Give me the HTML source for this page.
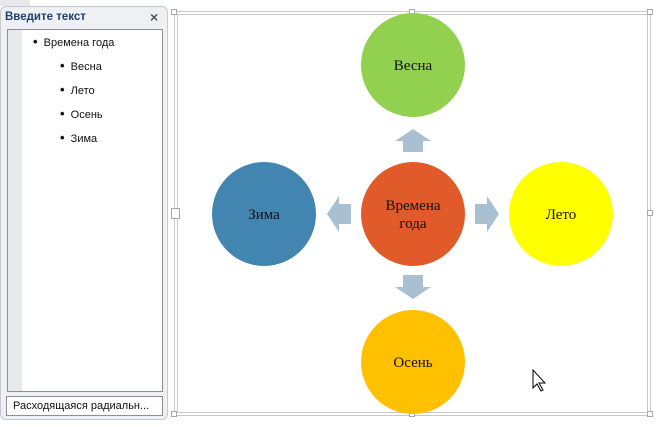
<!DOCTYPE html>
<html><head><meta charset="utf-8"><style>
body{margin:0;width:657px;height:427px;background:#fff;position:relative;overflow:hidden;font-family:"Liberation Sans",sans-serif}
.a{position:absolute}
.l div{height:24px;line-height:24px}
.l b{font-size:13px;line-height:0}
</style></head><body>
<div class="a" style="left:0;top:0;width:30px;height:6px;background:#e6e8ec"></div>
<div class="a" style="left:0;top:6px;width:168px;height:414px;background:#eef0f4;border:1px solid #c4c8cf;border-radius:6px;box-sizing:border-box"></div>
<div class="a" style="left:5px;top:11px;font-size:11.5px;color:#1e3f6e;font-weight:bold">Введите текст</div>
<div class="a" style="left:150px;top:9px;font-size:14px;color:#555;font-weight:bold">×</div>
<div class="a" style="left:7px;top:29px;width:156px;height:363px;background:#fff;border:1px solid #8a8f98;box-sizing:border-box"></div>
<div class="a" style="left:8px;top:30px;width:14px;height:361px;background:#e8e9eb"></div>
<div class="a l" style="left:33px;top:31px;font-size:11px;color:#111">
<div><b>•</b>&nbsp; Времена года</div>
<div style="padding-left:27px"><b>•</b>&nbsp; Весна</div>
<div style="padding-left:27px"><b>•</b>&nbsp; Лето</div>
<div style="padding-left:27px"><b>•</b>&nbsp; Осень</div>
<div style="padding-left:27px"><b>•</b>&nbsp; Зима</div>
</div>
<div class="a" style="left:6px;top:396px;width:157px;height:20px;background:#fff;border:1px solid #8a8f98;box-sizing:border-box;font-size:11px;color:#111;line-height:18px;padding-left:6px">Расходящаяся радиальн...</div>
<svg class="a" style="left:0;top:0" width="657" height="427">
<g fill="none" stroke="#c8c8c8">
<rect x="174.5" y="11.5" width="476" height="404"/>
<rect x="177.5" y="14.5" width="470" height="398"/>
</g>
<g fill="#fff" stroke="#a8a8a8">
<rect x="171.5" y="9.5" width="5" height="5"/><rect x="409.5" y="9.5" width="5" height="5"/><rect x="647.5" y="9.5" width="5" height="5"/>
<rect x="647.5" y="210.5" width="5" height="5"/><rect x="647.5" y="411.5" width="5" height="5"/>
<rect x="409.5" y="411.5" width="5" height="5"/><rect x="171.5" y="411.5" width="5" height="5"/>
<rect x="171.5" y="208.5" width="8" height="10"/>
</g>
<g fill="#a9bfd2">
<polygon points="403,152 423,152 423,141 431,141 413,129 395,141 403,141"/>
<polygon points="403,275 423,275 423,287 431,287 413,299 395,287 403,287"/>
<polygon points="351,204 351,224 339,224 339,232 327,214 339,196 339,204"/>
<polygon points="475,204 475,224 487,224 487,232 499,214 487,196 487,204"/>
</g>
<circle cx="413" cy="65" r="52" fill="#92d050"/>
<circle cx="561" cy="214" r="52" fill="#ffff00"/>
<circle cx="264" cy="214" r="52" fill="#4185b0"/>
<circle cx="413" cy="362" r="52" fill="#ffc000"/>
<circle cx="413" cy="214" r="52" fill="#e05a2a"/>
<g font-family="Liberation Serif,serif" font-size="15" fill="#111" text-anchor="middle">
<text x="413" y="70">Весна</text>
<text x="561" y="219">Лето</text>
<text x="264" y="219">Зима</text>
<text x="413" y="367">Осень</text>
<text x="413" y="210">Времена</text>
<text x="413" y="228">года</text>
</g>
<polygon points="533,370 533,388 537,384 541,391 543,390 539,383 545,383" fill="#fff" stroke="#000"/>
</svg>
</body></html>
